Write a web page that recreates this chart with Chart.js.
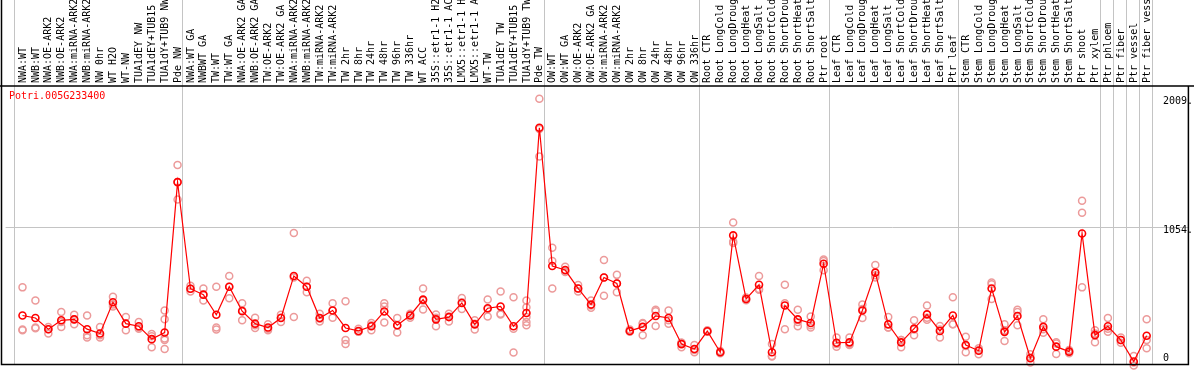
<!DOCTYPE html>
<html>
<head>
<meta charset="utf-8">
<script src="https://cdn.jsdelivr.net/npm/chart.js@4"></script>
<style>
    html, body { margin: 0; padding: 0; background: #fff; }
</style>
</head>
<body>
<canvas id="chart" width="1194" height="370"></canvas>
<script>
// chart data
const geneId = 'Potri.005G233400';

const categories = [
    'NWA:WT', 'NWB:WT', 'NWA:OE-ARK2', 'NWB:OE-ARK2', 'NWA:miRNA-ARK2', 'NWB:miRNA-ARK2',
    'NW 0hr', 'WT H2O', 'WT-NW', 'TUA1dEY NW', 'TUA1dEY+TUB15 NW', 'TUA1dY+TUB9 NW', 'Pde NW',
    'NWA:WT GA', 'NWBWT GA', 'TW:WT', 'TW:WT GA', 'NWA:OE-ARK2 GA', 'NWB:OE-ARK2 GA',
    'TW:OE-ARK2', 'TW:OE-ARK2 GA', 'NWA:miRNA-ARK2 GA', 'NWB:miRNA-ARK2 GA', 'TW:miRNA-ARK2',
    'TW:miRNA-ARK2 GA', 'TW 2hr', 'TW 8hr', 'TW 24hr', 'TW 48hr', 'TW 96hr', 'TW 336hr',
    'WT ACC', '35S::etr1-1 H2O', '35S::etr1-1 ACC', 'LMX5::etr1-1 H2O', 'LMX5::etr1-1 ACC',
    'WT-TW', 'TUA1dEY TW', 'TUA1dEY+TUB15 TW', 'TUA1dY+TUB9 TW', 'Pde TW',
    'OW:WT', 'OW:WT GA', 'OW:OE-ARK2', 'OW:OE-ARK2 GA', 'OW:miRNA-ARK2', 'OW:miRNA-ARK2 GA',
    'OW 2hr', 'OW 8hr', 'OW 24hr', 'OW 48hr', 'OW 96hr', 'OW 336hr',
    'Root CTR', 'Root LongCold', 'Root LongDrought', 'Root LongHeat', 'Root LongSalt',
    'Root ShortCold', 'Root ShortDrought', 'Root ShortHeat', 'Root ShortSalt', 'Ptr root',
    'Leaf CTR', 'Leaf LongCold', 'Leaf LongDrought', 'Leaf LongHeat', 'Leaf LongSalt',
    'Leaf ShortCold', 'Leaf ShortDrought', 'Leaf ShortHeat', 'Leaf ShortSalt', 'Ptr leaf',
    'Stem CTR', 'Stem LongCold', 'Stem LongDrought', 'Stem LongHeat', 'Stem LongSalt',
    'Stem ShortCold', 'Stem ShortDrought', 'Stem ShortHeat', 'Stem ShortSalt', 'Ptr shoot',
    'Ptr xylem', 'Ptr phloem', 'Ptr fiber', 'Ptr vessel', 'Ptr fiber vessel'
];

const means = [
    397, 378, 295, 361, 368, 295, 263, 495, 336, 317, 221, 270, 1389,
    596, 552, 402, 611, 429, 336, 307, 378, 691, 611, 378, 434,
    304, 282, 317, 427, 324, 397, 515, 368, 385, 490, 331, 451, 464, 317, 415, 1793,
    765, 735, 598, 478, 679, 635, 282, 312, 393, 378, 184, 148,
    280, 123, 993, 520, 625, 123, 471, 368, 341, 782,
    194, 197, 434, 716, 331, 197, 299, 405, 282, 397,
    177, 135, 598, 275, 393, 79, 312, 165, 128, 1007,
    251, 317, 214, 55, 246
];

const replicates = [
    [606, 292, 287], [508, 307, 302], [312, 295, 263], [422, 348, 312], [402, 368, 331],
    [397, 250, 233], [312, 250, 233], [537, 478, 464], [385, 336, 287], [348, 307, 299],
    [260, 243, 160], [434, 368, 226, 214, 148], [1517, 1389, 1260],
    [618, 596, 576], [598, 552, 508], [611, 307, 292], [691, 611, 525], [488, 434, 361],
    [380, 324, 304], [331, 299, 287], [402, 380, 348], [1010, 679, 385], [655, 611, 569],
    [410, 373, 353], [488, 434, 380],
    [503, 214, 184], [299, 275, 275], [341, 324, 287], [488, 464, 344], [378, 324, 270],
    [410, 402, 380], [598, 508, 442], [405, 380, 317], [410, 390, 353], [527, 495, 446],
    [361, 336, 292], [515, 446, 390], [576, 410, 405], [532, 299, 121],
    [508, 459, 385, 348, 324], [2009, 1784, 1580],
    [900, 802, 598], [760, 728, 721], [623, 598, 576], [508, 471, 454], [809, 679, 544],
    [699, 635, 569], [292, 280, 275], [341, 336, 250], [439, 429, 319], [434, 361, 336],
    [194, 194, 160], [177, 140, 123],
    [287, 280, 275], [133, 123, 116], [1088, 948, 936], [530, 520, 510], [691, 593, 588],
    [184, 96, 91], [625, 488, 295], [439, 348, 317], [390, 324, 307], [814, 802, 733],
    [233, 184, 165], [233, 184, 177], [478, 446, 378], [772, 696, 679], [385, 307, 307],
    [214, 214, 160], [361, 292, 250], [471, 380, 366], [319, 292, 233], [532, 331, 331],
    [238, 170, 123], [153, 140, 109], [642, 630, 520], [331, 287, 207], [439, 422, 324],
    [109, 84, 47], [368, 295, 268], [197, 189, 111], [140, 128, 116], [1250, 1162, 606],
    [287, 263, 197], [378, 299, 275], [233, 214, 194], [96, 47, 25], [368, 214, 153]
];

// group dividers (in category index units) and right-hand axis ticks
const separators = [-0.69, 12.38, 40.38, 52.38, 62.38, 72.38, 83.38, 84.38, 85.38, 86.38, 87.38];
const tickValues = [99, 1054, 2009];
const tickLabels = ['0', '1054.', '2009.'];

const monoFont = '10px "DejaVu Sans Mono", monospace';

// draws grid, frame, rotated category names, tick labels and title
const framePlugin = {
    id: 'frame',
    beforeDatasetsDraw(chart) {
        const { ctx, chartArea: area, scales: { x, y } } = chart;
        ctx.save();
        ctx.strokeStyle = '#c4c4c4';
        ctx.lineWidth = 1;
        separators.forEach(s => {
            const px = Math.round(x.getPixelForValue(s)) + 0.5;
            ctx.beginPath();
            ctx.moveTo(px, 0);
            ctx.lineTo(px, area.bottom);
            ctx.stroke();
        });
        const gy = Math.round(y.getPixelForValue(1054)) + 0.5;
        ctx.beginPath();
        ctx.moveTo(area.left, gy);
        ctx.lineTo(area.right, gy);
        ctx.stroke();

        ctx.fillStyle = '#000';
        ctx.font = monoFont;
        categories.forEach((name, i) => {
            ctx.save();
            ctx.translate(x.getPixelForValue(i) + 0.5, area.top - 3);
            ctx.rotate(-Math.PI / 2);
            ctx.textAlign = 'left';
            ctx.textBaseline = 'middle';
            ctx.fillText(name, 0, 0);
            ctx.restore();
        });

        ctx.textAlign = 'left';
        ctx.textBaseline = 'top';
        tickValues.forEach((v, k) => {
            ctx.fillText(tickLabels[k], 1163, y.getPixelForValue(v) - 2);
        });

        ctx.fillStyle = '#ff0000';
        ctx.fillText(geneId, 9, area.top + 5);
        ctx.restore();
    },
    afterDatasetsDraw(chart) {
        const { ctx, chartArea: area } = chart;
        ctx.save();
        ctx.strokeStyle = '#000';
        ctx.lineWidth = 1.5;
        ctx.beginPath();
        ctx.moveTo(1.5, 0);
        ctx.lineTo(1.5, area.bottom);
        ctx.lineTo(area.right, area.bottom);
        ctx.lineTo(area.right, area.top);
        ctx.moveTo(0, area.top);
        ctx.lineTo(1194, area.top);
        ctx.stroke();
        ctx.restore();
    }
};

const replicatePoints = replicates.flatMap((reps, i) => reps.map(v => ({ x: i, y: v })));
const meanPoints = means.map((v, i) => ({ x: i, y: v }));

new Chart(document.getElementById('chart'), {
    type: 'scatter',
    data: {
        datasets: [
            {
                label: 'mean',
                data: meanPoints,
                showLine: true,
                borderColor: '#ff0000',
                borderWidth: 1.2,
                pointRadius: 3.5,
                pointBorderWidth: 1.6,
                pointBorderColor: '#ff0000',
                pointBackgroundColor: 'rgba(0,0,0,0)',
                tension: 0,
                clip: false,
                order: 0
            },
            {
                label: 'replicates',
                data: replicatePoints,
                showLine: false,
                pointRadius: 3.5,
                pointBorderWidth: 1.5,
                pointBorderColor: '#ec9a9a',
                pointBackgroundColor: 'rgba(0,0,0,0)',
                clip: false,
                order: 1
            }
        ]
    },
    options: {
        responsive: false,
        animation: false,
        layout: { padding: { left: 2, right: 2, top: 86, bottom: 2 } },
        scales: {
            x: { type: 'linear', display: false, min: -1.308, max: 90.23 },
            y: { type: 'linear', display: false, min: 33, max: 2104 }
        },
        plugins: {
            legend: { display: false },
            tooltip: { enabled: false }
        }
    },
    plugins: [framePlugin]
});
</script>
</body>
</html>
